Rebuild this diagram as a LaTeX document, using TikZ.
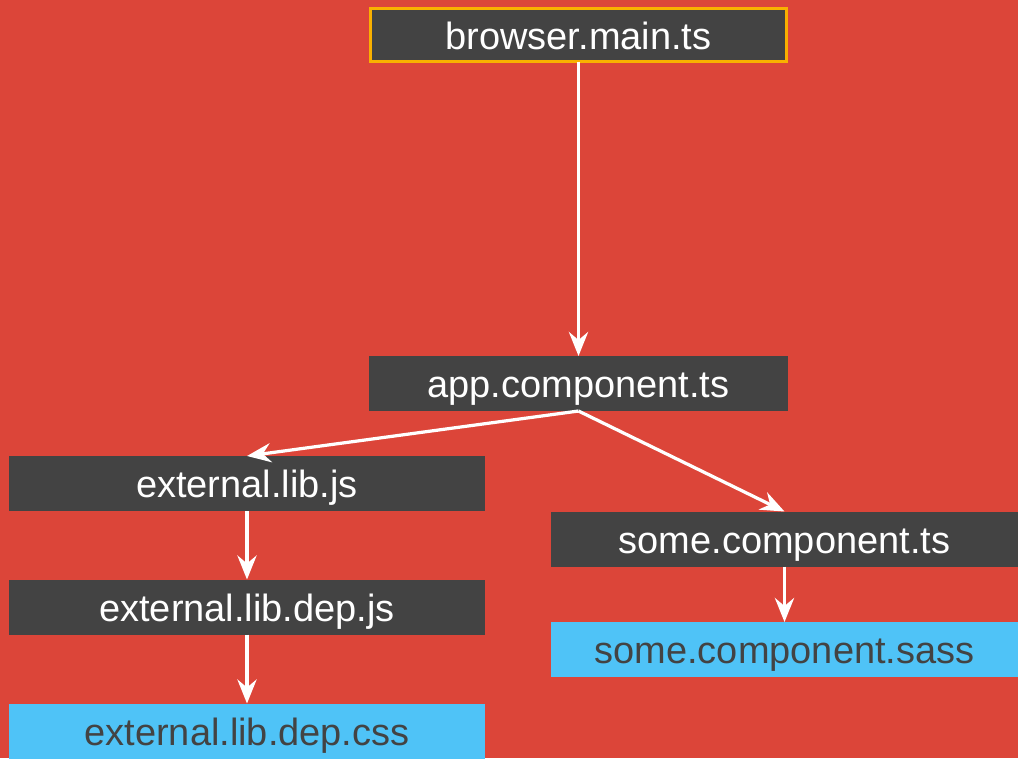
\documentclass[tikz,border=0pt]{standalone}
\usepackage{fontspec}
\setmainfont{Liberation Sans}
\usepackage{xcolor}
\definecolor{slideRed}{HTML}{DC4539}
\definecolor{boxGrey}{HTML}{434343}
\definecolor{assetBlue}{HTML}{4FC3F7}
\definecolor{entryOrange}{HTML}{F9B000}
\usetikzlibrary{positioning,arrows.meta}

\begin{document}
\begin{tikzpicture}[x=0.025cm, y=-0.025cm,
    every node/.style={font=\fontsize{27}{31}\selectfont},
    box/.style={rectangle, minimum width=10.475cm, minimum height=1.375cm,
                text height=25pt, text depth=5pt, inner sep=0pt, outer sep=0pt},
    mod/.style={box, fill=boxGrey, text=white},
    wide/.style={mod, minimum width=11.9cm},
    entry/.style={mod, draw=entryOrange, line width=2.1pt,
                  minimum width=10.4cm, minimum height=1.325cm},
    asset/.style={box, fill=assetBlue, text=boxGrey},
    arr/.style={-{Stealth[length=6mm, width=4.8mm, inset=2mm]},
                draw=white, line width=2.3pt}]
  \fill[slideRed] (0,0) rectangle (1018,758);
  \useasboundingbox (0,0) rectangle (1018,758);
  \node[entry]  (main) at (578.5, 35)    {browser.main.ts};
  \node[mod]    (app)  at (578.5, 383.5) {app.component.ts};
  \node[wide]   (ext)  at (247, 483.5)   {external.lib.js};
  \node[wide]   (dep)  at (247, 607)     {external.lib.dep.js};
  \node[asset, minimum width=11.9cm]   (css)  at (247, 731)     {external.lib.dep.css};
  \node[mod, minimum width=11.675cm]   (some) at (784.5, 539)   {some.component.ts};
  \node[asset, minimum width=11.675cm] (sass) at (784.5, 649.5) {some.component.sass};
  \draw[arr] (main) -- (app);
  \draw[arr] (app.south) -- (ext.north);
  \draw[arr] (app.south) -- (some.north);
  \draw[arr] (ext) -- (dep);
  \draw[arr] (dep) -- (css);
  \draw[arr] (some) -- (sass);
\end{tikzpicture}
\end{document}
